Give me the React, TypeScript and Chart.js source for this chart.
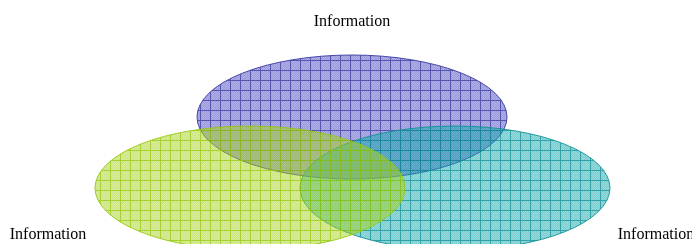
import React, { useEffect, useRef } from 'react';
import { Chart, registerables } from 'chart.js';
Chart.register(...registerables);

// Venn sets (geometry in axis units)
const setNames = ['Information', 'Information', 'Information'];
const centerX = [352, 250, 455];
const centerY = [117, 188, 188];
const radiusX = [155, 155, 155];
const radiusY = [62, 62, 62];
const labelX = [352, 48, 656];
const labelY = [22, 235, 235];
// blue, green, teal ; drawn blue -> teal -> green
const drawOrder = [0, 2, 1];

const baseRGB = [
  [70, 70, 190],
  [165, 210, 25],
  [15, 165, 170],
];
const lineRGB = [
  [55, 55, 160],
  [150, 200, 15],
  [15, 145, 150],
];

function makePattern(ctx: CanvasRenderingContext2D, i: number) {
  const c = document.createElement('canvas');
  c.width = 10;
  c.height = 10;
  const p = c.getContext('2d')!;
  const img = p.createImageData(10, 10);
  const b = baseRGB[i];
  const l = lineRGB[i];
  for (let y = 0; y < 10; y++) {
    for (let x = 0; x < 10; x++) {
      const k = (y * 10 + x) * 4;
      let col = b;
      let a = (x + y) % 2 === 0 ? 0.42 : 0.55;
      if (x === 0 || y === 0) {
        col = l;
        a = 0.85;
      }
      img.data[k] = col[0];
      img.data[k + 1] = col[1];
      img.data[k + 2] = col[2];
      img.data[k + 3] = Math.round(a * 255);
    }
  }
  p.putImageData(img, 0, 0);
  return ctx.createPattern(c, 'repeat')!;
}

const vennPlugin = {
  id: 'venn',
  afterDatasetsDraw(chart: any) {
    const ctx = chart.ctx as CanvasRenderingContext2D;
    const xs = chart.scales.x;
    const ys = chart.scales.y;
    ctx.save();
    for (const i of drawOrder) {
      const cx = xs.getPixelForValue(centerX[i]);
      const cy = ys.getPixelForValue(centerY[i]);
      const rx = Math.abs(xs.getPixelForValue(centerX[i] + radiusX[i]) - cx);
      const ry = Math.abs(ys.getPixelForValue(centerY[i] + radiusY[i]) - cy);
      ctx.beginPath();
      ctx.ellipse(cx, cy, rx, ry, 0, 0, Math.PI * 2);
      ctx.fillStyle = makePattern(ctx, i);
      ctx.fill();
      const l = lineRGB[i];
      ctx.strokeStyle = `rgba(${l[0]},${l[1]},${l[2]},0.9)`;
      ctx.lineWidth = 1;
      ctx.stroke();
    }
    ctx.fillStyle = '#000';
    ctx.font = '16px "Liberation Serif", "Times New Roman", serif';
    ctx.textAlign = 'center';
    ctx.textBaseline = 'middle';
    for (let i = 0; i < setNames.length; i++) {
      ctx.fillText(setNames[i], xs.getPixelForValue(labelX[i]), ys.getPixelForValue(labelY[i]));
    }
    ctx.restore();
  },
};

export default function App() {
  const ref = useRef<HTMLCanvasElement>(null);
  useEffect(() => {
    document.body.style.margin = '0';
    const chart = new Chart(ref.current!, {
      type: 'scatter',
      data: {
        datasets: [
          {
            data: centerX.map((x, i) => ({ x, y: centerY[i] })),
            pointRadius: 0,
            pointHoverRadius: 0,
          },
        ],
      },
      options: {
        animation: false,
        responsive: false,
        layout: { padding: 0 },
        plugins: { legend: { display: false }, tooltip: { enabled: false } },
        scales: {
          x: { type: 'linear', min: 0, max: 692, display: false },
          y: { type: 'linear', min: 0, max: 244, reverse: true, display: false },
        },
      },
      plugins: [vennPlugin],
    });
    return () => chart.destroy();
  }, []);
  return (
    <div style={{ position: 'absolute', left: 0, top: 0, width: 692, height: 244 }}>
      <canvas ref={ref} width={692} height={244} style={{ width: 692, height: 244 }} />
    </div>
  );
}
